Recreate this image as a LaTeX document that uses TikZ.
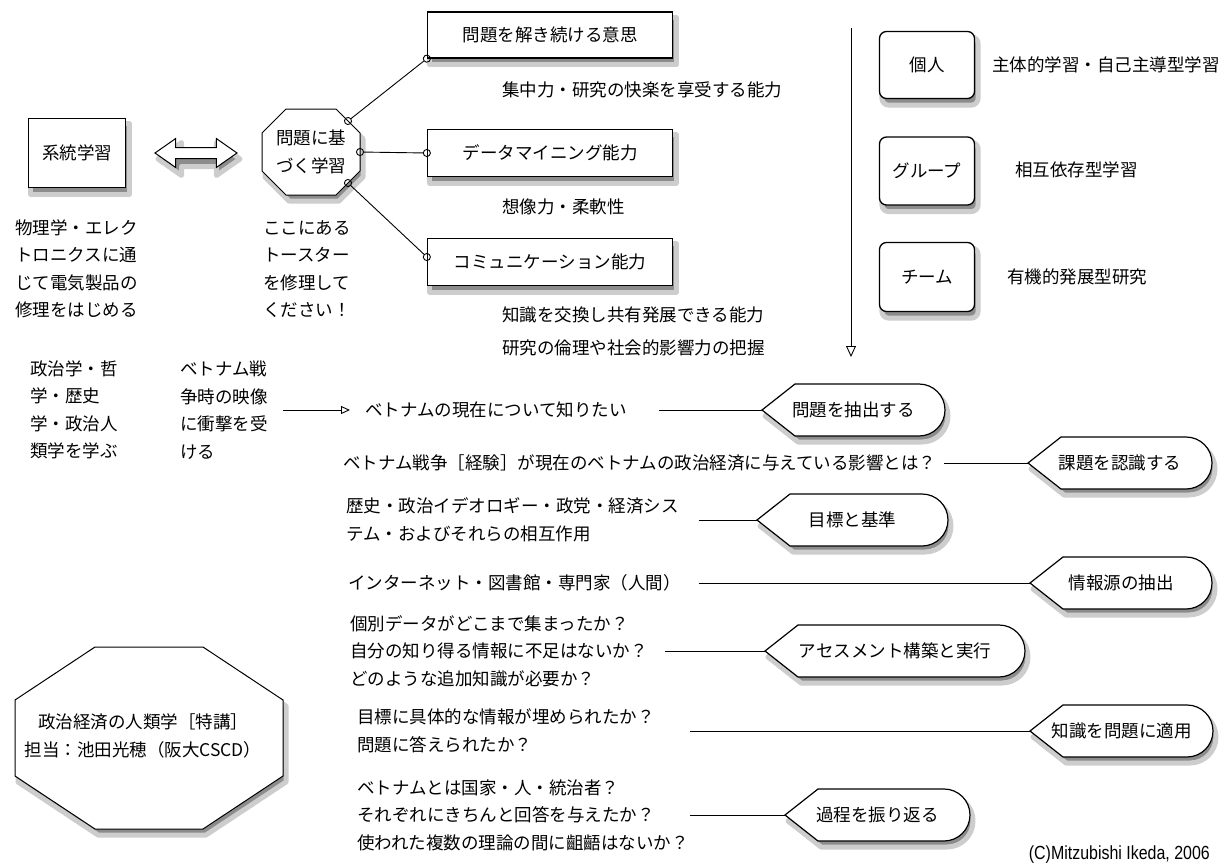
\documentclass[tikz,border=0pt]{standalone}
\usepackage{fontspec}
\setmainfont{Noto Sans CJK JP}
\newfontfamily\creditfont[FakeStretch=0.84]{Liberation Sans}
\usetikzlibrary{arrows.meta}
\usetikzlibrary{shapes.arrows}
\usetikzlibrary{backgrounds}

\definecolor{shadowgray}{RGB}{140,140,140}
\definecolor{shadowhalo}{RGB}{205,205,205}

\tikzset{
  jp/.style={font=\fontsize{17.5pt}{27.5pt}\selectfont, inner sep=0pt, align=left},
  shadowfill/.style={fill=shadowgray, draw=shadowhalo, line width=5pt, line join=round},
  sqbox/.style={jp, align=center, draw, line width=1.3pt, fill=white},
  rbox/.style={sqbox, rounded corners=7pt, minimum width=95pt},
  tag/.style={draw, line width=1.2pt, fill=white},
  tagtext/.style={jp, align=center},
  swapshape/.style={double arrow, minimum height=82pt, minimum width=28pt, inner sep=5pt,
                    double arrow head extend=9pt, double arrow tip angle=70},
  link/.style={line width=0.9pt},
  knob/.style={link, {Circle[open,length=8pt]}-{Circle[open,length=8pt]}, shorten <=-4pt, shorten >=-4pt}
}

\newcommand{\tagpath}[3]{(#1,#3) -- ++(33,26) -- (#2-26,#3+26) arc[start angle=90, end angle=-90, radius=26] -- (#1+33,#3-26) -- cycle}
\newcommand{\stagebox}[5]{%
  \filldraw[shadowfill] \tagpath{#2+3}{#3+3}{#4-6};
  \draw[tag] \tagpath{#2}{#3}{#4};
  \coordinate (#1-tip) at (#2,#4);
  \node[tagtext] (#1) at ({(#2+#3)/2},#4) {#5};
}

\begin{document}
\begin{tikzpicture}[x=1pt, y=1pt]
\path[use as bounding box] (0,0) rectangle (1227,-868);

\node[sqbox, minimum width=97pt, minimum height=69pt] (sys) at (77,-153) {系統学習};
\node[swapshape, shadowfill] (swap-sh) at (199,-159) {};
\node[swapshape, draw, line width=1pt, fill=white] (swap) at (196,-153) {};

\begin{scope}[shift={(314,-158)}]
\filldraw[shadowfill] (-25,43) -- (25,43) -- (49,19) -- (49,-19) -- (25,-43) -- (-25,-43) -- (-49,-19) -- (-49,19) -- cycle;
\end{scope}
\begin{scope}[shift={(311,-152)}]
\draw[tag, line width=1pt] (-25,43) -- (25,43) -- (49,19) -- (49,-19) -- (25,-43) -- (-25,-43) -- (-49,-19) -- (-49,19) -- cycle;
\node[tagtext] (pbl) at (0,0) {問題に基\\づく学習};
\coordinate (pbl-a) at (37,31);
\coordinate (pbl-b) at (49,0);
\coordinate (pbl-c) at (37,-31);
\end{scope}

\node[sqbox, minimum width=245pt, minimum height=46pt] (will) at (550,-35)  {問題を解き続ける意思};
\node[sqbox, minimum width=245pt, minimum height=47pt] (data) at (550,-153) {データマイニング能力};
\node[sqbox, minimum width=245pt, minimum height=47pt] (comm) at (550,-262) {コミュニケーション能力};

\draw[knob] (pbl-a) -- (will.south west);
\draw[knob] (pbl-b) -- (data.west);
\draw[knob] (pbl-c) -- ([yshift=5pt]comm.west);

\node[jp, anchor=west] (will-n)  at (502,-90)  {集中力・研究の快楽を享受する能力};
\node[jp, anchor=west] (data-n)  at (502,-207) {想像力・柔軟性};
\node[jp, anchor=west] (comm-n1) at (502,-315) {知識を交換し共有発展できる能力};
\node[jp, anchor=west] (comm-n2) at (502,-348) {研究の倫理や社会的影響力の把握};

\node[jp, anchor=west] (sys-n) at (15,-269)  {物理学・エレク\\トロニクスに通\\じて電気製品の\\修理をはじめる};
\node[jp, anchor=west] (toast) at (263,-269) {ここにある\\トースター\\を修理して\\ください！};

\coordinate (flow-s) at (851,-28);
\coordinate (flow-e) at (851,-357);
\draw[link, -{Triangle[open, length=11pt, width=10pt]}] (flow-s) -- (flow-e);

\node[rbox, minimum height=67pt] (indiv) at (927,-65)  {個人};
\node[rbox, minimum height=68pt] (group) at (927,-171) {グループ};
\node[rbox, minimum height=69pt] (team)  at (927,-277) {チーム};

\begin{pgfonlayer}{background}
\foreach \n in {sys,will,data,comm}
  \filldraw[shadowfill] ([shift={(3,-6)}]\n.south west) rectangle ([shift={(3,-6)}]\n.north east);
\foreach \n in {indiv,group,team}
  \filldraw[shadowfill, rounded corners=7pt] ([shift={(3,-6)}]\n.south west) rectangle ([shift={(3,-6)}]\n.north east);
\end{pgfonlayer}

\node[jp, anchor=west] (indiv-n) at (992,-65)  {主体的学習・自己主導型学習};
\node[jp, anchor=west] (group-n) at (1015,-170) {相互依存型学習};
\node[jp, anchor=west] (team-n)  at (1007,-277) {有機的発展型研究};

\node[jp, anchor=west] (poli) at (30,-410)  {政治学・哲\\学・歴史\\学・政治人\\類学を学ぶ};
\node[jp, anchor=west] (viet) at (180,-410) {ベトナム戦\\争時の映像\\に衝撃を受\\ける};

\node[jp, anchor=west] (want) at (365,-410) {ベトナムの現在について知りたい};
\draw[link, -{Triangle[open, length=9pt, width=8pt]}, shorten <=15pt, shorten >=15pt] (viet.east) -- (want.west);
\stagebox{extract}{762}{945}{-410}{問題を抽出する}
\draw[link, shorten <=32pt] (want.east) -- (extract-tip);

\node[jp, anchor=west] (impact) at (343,-463) {ベトナム戦争［経験］が現在のベトナムの政治経済に与えている影響とは？};
\stagebox{issue}{1028}{1212}{-463}{課題を認識する}
\draw[link, shorten <=8pt] (impact.east) -- (issue-tip);

\node[jp, anchor=west] (frame) at (346,-520) {歴史・政治イデオロギー・政党・経済シス\\テム・およびそれらの相互作用};
\stagebox{goal}{757}{948}{-520}{目標と基準}
\draw[link, shorten <=20pt] (frame.east) -- (goal-tip);

\node[jp, anchor=west] (media) at (348,-583) {インターネット・図書館・専門家（人間）};
\stagebox{source}{1030}{1212}{-583}{情報源の抽出}
\draw[link, shorten <=18pt] (media.east) -- (source-tip);

\node[jp, anchor=west] (check) at (350,-651) {個別データがどこまで集まったか？\\自分の知り得る情報に不足はないか？\\どのような追加知識が必要か？};
\stagebox{assess}{765}{1025}{-651}{アセスメント構築と実行}
\draw[link, shorten <=17pt] (check.east) -- (assess-tip);

\node[jp, anchor=west] (fill) at (357,-731) {目標に具体的な情報が埋められたか？\\問題に答えられたか？};
\stagebox{apply}{1030}{1213}{-731}{知識を問題に適用}
\draw[link, shorten <=35pt] (fill.east) -- (apply-tip);

\node[jp, anchor=west] (review) at (357,-815) {ベトナムとは国家・人・統治者？\\それぞれにきちんと回答を与えたか？\\使われた複数の理論の間に齟齬はないか？};
\stagebox{reflect}{785}{970}{-815}{過程を振り返る}
\draw[link, shorten <=1pt] (review.east) -- (reflect-tip);

\begin{scope}[shift={(152,-744)}]
\filldraw[shadowfill] (-54,91) -- (54,91) -- (134,38) -- (134,-38) -- (54,-91) -- (-54,-91) -- (-134,-38) -- (-134,38) -- cycle;
\end{scope}
\begin{scope}[shift={(149,-738)}]
\draw[tag, line width=1pt] (-54,91) -- (54,91) -- (134,38) -- (134,-38) -- (54,-91) -- (-54,-91) -- (-134,-38) -- (-134,38) -- cycle;
\node[tagtext] (course) at (-6,2) {政治経済の人類学［特講］\\担当：池田光穂（阪大CSCD）};
\end{scope}

\node[font=\creditfont\fontsize{19pt}{21pt}\selectfont, inner sep=0pt, anchor=east] (credit) at (1210,-855) {(C)Mitzubishi Ikeda, 2006};
\end{tikzpicture}
\end{document}
